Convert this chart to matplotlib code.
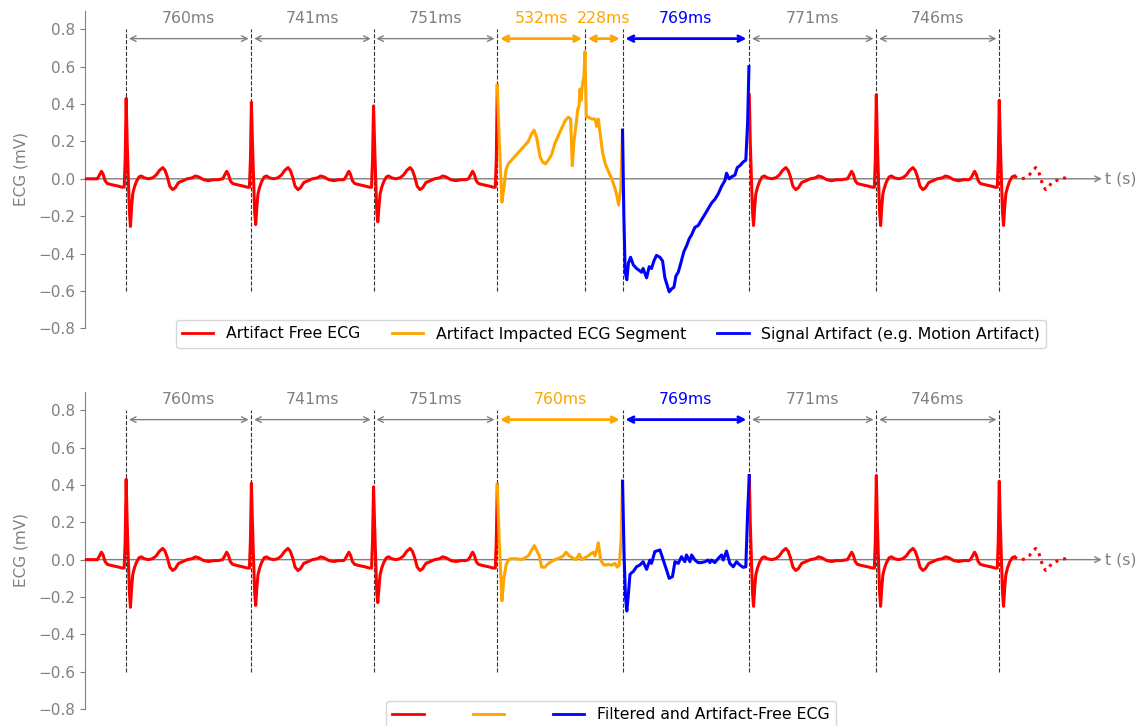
import matplotlib
matplotlib.use("Agg")
import matplotlib.pyplot as plt
from matplotlib.lines import Line2D

# R-peak times (s); beats 3 and 4 start the artifact segments
r_times = [0.250, 1.010, 1.751, 2.502, 3.262, 4.031, 4.802, 5.548]
artifact_peak = 3.034
r_amp = [0.43, 0.41, 0.39, None, None, 0.45, 0.45, 0.42]
s_amp = [-0.255, -0.245, -0.23, None, None, -0.25, -0.25, -0.25]

# clean beat shape: after the R peak (index 0 = R, index 4 = S) and before it
post_ms = [0, 6, 13, 20, 26, 33, 40, 50, 62, 78, 92, 110, 135, 160, 182, 202,
           222, 236, 250, 265, 282, 298, 318, 345, 370, 400, 420, 440, 470, 500, 530, 560]
post_mv = [0.0, 0.20, 0.0, -0.18, 0.0, -0.15, -0.08, -0.045, -0.015, 0.01, 0.015, 0.005,
           0.0, 0.005, 0.02, 0.045, 0.06, 0.045, 0.01, -0.04, -0.058, -0.048, -0.02,
           -0.01, 0.0, 0.005, 0.015, 0.01, -0.005, -0.01, -0.005, -0.005]
pre_ms = [-175, -162, -150, -140, -128, -115, -95, -70, -45, -25, -12, -6]
pre_mv = [0.0, 0.02, 0.04, 0.025, -0.01, -0.025, -0.03, -0.035, -0.04, -0.045, -0.045, 0.10]

# top panel: raw artifact (ms after R-peak 3 / R-peak 4)
raw_orange_ms = [0, 12, 28, 40, 53, 67, 97, 127, 158, 188, 208, 223, 239, 259, 275, 293,
                 310, 330, 350, 380, 411, 431, 445, 455, 465, 477, 488, 496, 502, 508, 516,
                 526, 532, 540, 552, 573, 593, 603, 613, 623, 639, 655, 674, 694, 714, 728,
                 736, 749, 760]
raw_orange_mv = [0.50, 0.20, -0.125, -0.05, 0.05, 0.08, 0.11, 0.14, 0.17, 0.20, 0.24, 0.26,
                 0.22, 0.12, 0.09, 0.08, 0.10, 0.13, 0.19, 0.25, 0.31, 0.33, 0.32, 0.07, 0.20,
                 0.28, 0.37, 0.39, 0.48, 0.42, 0.50, 0.55, 0.68, 0.33, 0.33, 0.32, 0.32, 0.28,
                 0.32, 0.25, 0.14, 0.08, 0.04, 0.0, -0.05, -0.10, -0.14, -0.05, 0.26]
raw_blue_ms = [0, 8, 16, 26, 36, 49, 65, 85, 101, 115, 125, 146, 162, 176, 190, 206, 227,
               243, 257, 271, 283, 297, 312, 324, 338, 354, 372, 388, 405, 419, 439, 459,
               479, 500, 520, 540, 560, 581, 601, 621, 631, 647, 661, 682, 696, 712, 732,
               748, 759, 767]
raw_blue_mv = [0.26, -0.20, -0.50, -0.54, -0.45, -0.42, -0.46, -0.48, -0.49, -0.50, -0.48,
               -0.53, -0.47, -0.48, -0.44, -0.41, -0.42, -0.44, -0.53, -0.57, -0.605, -0.59,
               -0.58, -0.52, -0.50, -0.45, -0.39, -0.36, -0.32, -0.30, -0.26, -0.25, -0.22,
               -0.19, -0.16, -0.13, -0.11, -0.08, -0.04, -0.01, 0.03, 0.0, 0.01, 0.02, 0.06,
               0.07, 0.09, 0.10, 0.30, 0.60]

# bottom panel: filtered segments
filt_orange_ms = [0, 12, 28, 40, 53, 67, 87, 117, 148, 168, 188, 208, 225, 239, 255, 269,
                  289, 310, 330, 350, 380, 401, 417, 437, 457, 477, 498, 512, 532, 552, 566,
                  583, 593, 603, 613, 627, 639, 653, 674, 694, 714, 728, 740, 751, 760]
filt_orange_mv = [0.40, 0.10, -0.22, -0.10, -0.03, 0.0, 0.005, 0.005, 0.0, 0.01, 0.02, 0.05,
                  0.075, 0.05, 0.02, -0.04, -0.04, -0.02, -0.01, 0.0, 0.01, 0.02, 0.04, 0.02,
                  0.01, 0.0, 0.03, 0.0, 0.01, 0.02, 0.03, 0.04, 0.02, 0.05, 0.09, 0.0, -0.02,
                  -0.03, -0.025, -0.03, -0.02, -0.04, -0.03, 0.10, 0.42]
filt_blue_ms = [0, 10, 18, 26, 34, 45, 55, 65, 85, 105, 125, 146, 166, 176, 196, 227, 247,
                267, 283, 303, 318, 338, 358, 378, 388, 409, 419, 439, 459, 479, 500, 520,
                530, 540, 560, 581, 601, 611, 631, 651, 672, 692, 712, 732, 748, 759, 769]
filt_blue_mv = [0.42, 0.0, -0.20, -0.275, -0.20, -0.08, -0.07, -0.064, -0.038, -0.029,
                -0.011, -0.052, -0.002, -0.02, 0.043, 0.052, -0.002, -0.055, -0.10, -0.091,
                -0.011, -0.02, 0.016, -0.011, 0.025, -0.011, 0.025, -0.002, -0.016, -0.016,
                -0.011, -0.002, -0.016, -0.002, -0.016, 0.007, 0.025, -0.002, 0.046, -0.02,
                -0.038, -0.011, -0.029, -0.041, -0.038, 0.25, 0.45]

top_labels = ["760ms", "741ms", "751ms", "532ms", "228ms", "769ms", "771ms", "746ms"]
top_colors = ["gray", "gray", "gray", "orange", "orange", "blue", "gray", "gray"]
bot_labels = ["760ms", "741ms", "751ms", "760ms", "769ms", "771ms", "746ms"]
bot_colors = ["gray", "gray", "gray", "orange", "blue", "gray", "gray"]

RED, ORANGE, BLUE, GREY = "red", "orange", "blue", "gray"
FS = 11.3


def post(i, lo=0, hi=600):
    vals = list(post_mv)
    vals[0], vals[4] = r_amp[i], s_amp[i]
    return [(r_times[i] + ms / 1000, v) for ms, v in zip(post_ms, vals) if lo <= ms <= hi]


def pre(i):
    return [(r_times[i] + ms / 1000, v) for ms, v in zip(pre_ms, pre_mv)]


def plot_pts(ax, pts, **kw):
    ax.plot([p[0] for p in pts], [p[1] for p in pts], **kw)


def draw_panel(ax, o_ms, o_mv, b_ms, b_mv, marks, labels, colors):
    ax.set_xlim(0, 6.2)
    ax.set_ylim(-0.8, 0.9)
    for s in ("top", "right", "bottom"):
        ax.spines[s].set_visible(False)
    ax.spines["left"].set_color(GREY)
    ax.set_xticks([])
    ax.set_yticks([-0.8, -0.6, -0.4, -0.2, 0.0, 0.2, 0.4, 0.6, 0.8])
    ax.tick_params(axis="y", colors=GREY, labelsize=11)
    ax.set_ylabel("ECG (mV)", color=GREY, fontsize=11, labelpad=7)

    # time axis arrow
    ax.annotate("", xy=(6.17, 0), xytext=(0, 0),
                arrowprops=dict(arrowstyle="->", color=GREY, lw=1, shrinkA=0, shrinkB=0),
                annotation_clip=False)
    ax.text(6.19, 0, "t (s)", color=GREY, fontsize=FS, ha="left", va="center", clip_on=False)

    for m in marks:
        ax.plot([m, m], [-0.6, 0.8], color="#333333", lw=0.8, ls="--", zorder=1)
    for k, (a, b) in enumerate(zip(marks[:-1], marks[1:])):
        c = colors[k]
        ax.annotate("", xy=(b, 0.75), xytext=(a, 0.75),
                    arrowprops=dict(arrowstyle="<->", color=c, lw=1 if c == GREY else 2))
        ax.text((a + b) / 2, 0.86, labels[k], color=c, fontsize=FS, ha="center", va="center")

    seg1 = [(0.0, 0.0)]
    for i in range(3):
        seg1 += pre(i) + post(i)
    seg1 += pre(3) + [(r_times[3], o_mv[0])]
    seg2 = post(5) + pre(6) + post(6) + pre(7) + post(7, hi=92)
    plot_pts(ax, seg1, color=RED, lw=2.2, zorder=3)
    plot_pts(ax, seg2, color=RED, lw=2.2, zorder=3)
    plot_pts(ax, post(7, lo=92, hi=420), color=RED, lw=2.2, ls=":", zorder=3)
    ax.plot([r_times[3] + ms / 1000 for ms in o_ms], o_mv, color=ORANGE, lw=2.2, zorder=3)
    ax.plot([r_times[4] + ms / 1000 for ms in b_ms], b_mv, color=BLUE, lw=2.2, zorder=3)


fig = plt.figure(figsize=(11.42, 7.26), dpi=100)
ax1 = fig.add_axes([0.0744, 0.5478, 0.8947, 0.4376])
ax2 = fig.add_axes([0.0744, 0.0234, 0.8947, 0.4372])

draw_panel(ax1, raw_orange_ms, raw_orange_mv, raw_blue_ms, raw_blue_mv,
           sorted(r_times + [artifact_peak]), top_labels, top_colors)
draw_panel(ax2, filt_orange_ms, filt_orange_mv, filt_blue_ms, filt_blue_mv,
           r_times, bot_labels, bot_colors)

h_top = [Line2D([0], [0], color=RED, lw=2, label="Artifact Free ECG"),
         Line2D([0], [0], color=ORANGE, lw=2, label="Artifact Impacted ECG Segment"),
         Line2D([0], [0], color=BLUE, lw=2, label="Signal Artifact (e.g. Motion Artifact)")]
ax1.legend(handles=h_top, loc="center", ncol=3, fontsize=FS,
           bbox_to_anchor=(611 / 1142, 1 - 334 / 726), bbox_transform=fig.transFigure)

h_bot = [Line2D([0], [0], color=RED, lw=2, label=" "),
         Line2D([0], [0], color=ORANGE, lw=2, label=" "),
         Line2D([0], [0], color=BLUE, lw=2, label="Filtered and Artifact-Free ECG")]
ax2.legend(handles=h_bot, loc="upper center", ncol=3, fontsize=FS,
           bbox_to_anchor=(611 / 1142, 1 - 693 / 726), bbox_transform=fig.transFigure)

fig.savefig("out.png", dpi=100)
